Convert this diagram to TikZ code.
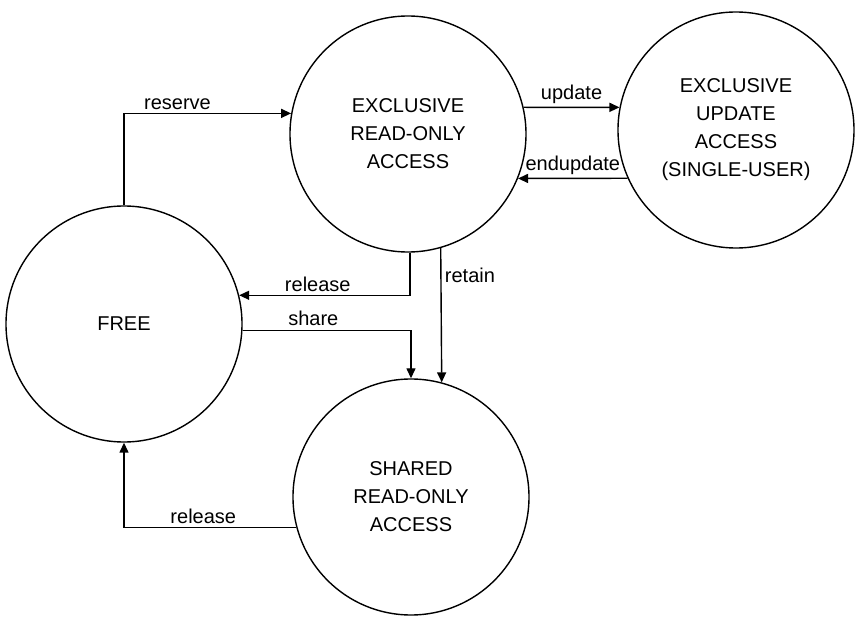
\documentclass[tikz,border=0pt]{standalone}
\usepackage{fontspec}
\setmainfont{Liberation Sans}
\usetikzlibrary{arrows.meta, positioning}

\begin{document}
\begin{tikzpicture}[x=1pt, y=-1pt,
	state/.style={draw, circle, line width=1.4pt, minimum size=236pt, align=center, font=\fontsize{20}{28}\selectfont},
	trans/.style={-{Triangle[length=10pt, width=9pt]}, line width=1.4pt},
	lbl/.style={font=\fontsize{20}{24}\selectfont}]
		
		\useasboundingbox (0, 0) rectangle (855, 617);
		
		% States
		\node[state] (free) at (124, 324) {FREE};
		\node[state] (exro) at (408, 134) {EXCLUSIVE\\READ-ONLY\\ACCESS};
		\node[state] (exup) at (736, 130) {EXCLUSIVE\\UPDATE\\ACCESS\\(SINGLE-USER)};
		\node[state] (shro) at (411, 497) {SHARED\\READ-ONLY\\ACCESS};
		
		% Transitions
		\draw[trans] (free.north) |- (exro.170) node[lbl, above, pos=0.66] {reserve};
		\draw[trans] (exro.13) -- (exup.169) node[lbl, above, midway] {update};
		\draw[trans] (exup.204) -- (exro.338) node[lbl, above, midway] {endupdate};
		\draw[trans] (exro.271) |- (free.14) node[lbl, above, pos=0.77] {release};
		\draw[trans] (exro.286) -- (shro.75) node[lbl, right, pos=0.2] {retain};
		\draw[trans] (free.-3) -| (shro.north) node[lbl, above, pos=0.21] {share};
		\draw[trans] (shro.195) -| (free.south) node[lbl, above, pos=0.27] {release};
		
	\end{tikzpicture}
\end{document}
